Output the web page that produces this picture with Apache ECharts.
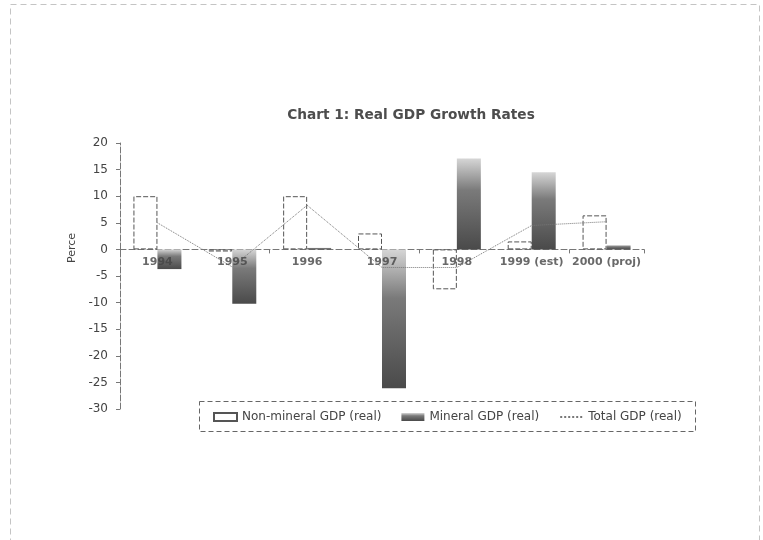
<!DOCTYPE html>
<html>
<head>
<meta charset="utf-8">
<script src="https://cdn.jsdelivr.net/npm/echarts@6/dist/echarts.min.js"></script>
<style>
html,body{margin:0;padding:0;background:#fff;}
#chart{width:763px;height:540px;}
</style>
</head>
<body>
<div id="chart"></div>
<script>
const categories = ['1994', '1995', '1996', '1997', '1998', '1999 (est)', '2000 (proj)'];
const nonMineral = [10.0, -0.4, 10.0, 3.0, -7.5, 1.5, 6.4];
const mineral = [-3.7, -10.2, 0.3, -26.1, 17.1, 14.5, 0.8];
const totalGdp = [5.0, -3.3, 8.3, -3.4, -3.4, 4.5, 5.2];
const yTicks = { min: -30, max: 20, interval: 5 };

const FONT = 'DejaVu Sans';
const chart = echarts.init(document.getElementById('chart'), null, { renderer: 'canvas' });

// category labels placed at the zero line (Excel style "next to axis")
const labelAnchors = categories.map(c => [c, 0]);

chart.setOption({
  backgroundColor: '#ffffff',
  animation: false,
  title: {
    text: 'Chart 1: Real GDP Growth Rates',
    left: 406, top: 103, textAlign: 'center',
    textStyle: { fontFamily: FONT, fontSize: 13.7, fontWeight: 'bold', color: '#4d4d4d' }
  },
  grid: { left: 120, right: 119, top: 143, bottom: 131, containLabel: false },
  legend: {
    left: 208, top: 406,
    itemGap: 20, itemWidth: 23, itemHeight: 8,
    textStyle: { fontFamily: FONT, fontSize: 12, color: '#444' },
    data: [
      { name: 'Non-mineral GDP (real)', icon: 'rect' },
      { name: 'Mineral GDP (real)', icon: 'rect' },
      { name: 'Total GDP (real)', itemStyle: { opacity: 0 } }
    ]
  },
  xAxis: {
    type: 'category',
    data: categories,
    axisLine: { onZero: true, lineStyle: { color: '#777', type: [6, 3], width: 1 } },
    axisTick: { show: true, length: 4, lineStyle: { color: '#777' } },
    axisLabel: { show: false },
    splitLine: { show: false }
  },
  yAxis: {
    type: 'value',
    min: yTicks.min, max: yTicks.max, interval: yTicks.interval,
    axisLine: { show: true, lineStyle: { color: '#777', type: [6, 2], width: 1 } },
    axisTick: { show: true, length: 4, lineStyle: { color: '#777' } },
    axisLabel: { fontFamily: FONT, fontSize: 12, color: '#444', margin: 12 },
    splitLine: { show: false }
  },
  series: [
    {
      name: 'Non-mineral GDP (real)',
      type: 'bar',
      data: nonMineral,
      barWidth: 24,
      barGap: '0%',
      itemStyle: { color: '#ffffff', borderColor: '#555', borderWidth: 1, borderType: [5, 2] }
    },
    {
      name: 'Mineral GDP (real)',
      type: 'bar',
      data: mineral,
      barWidth: 24,
      barGap: '0%',
      itemStyle: {
        color: new echarts.graphic.LinearGradient(0, 0, 0, 1, [
          { offset: 0, color: '#d6d6d6' },
          { offset: 0.35, color: '#7a7a7a' },
          { offset: 1, color: '#4a4a4a' }
        ])
      }
    },
    {
      name: 'Total GDP (real)',
      type: 'line',
      data: totalGdp,
      symbol: 'none',
      z: 5,
      lineStyle: { color: '#777', width: 1, type: 'dotted' },
      itemStyle: { color: '#777' }
    },
    {
      name: 'axisLabels',
      type: 'scatter',
      data: labelAnchors,
      symbolSize: 0,
      silent: true,
      z: 10,
      label: {
        show: true, position: 'bottom', distance: 7,
        formatter: p => p.name || p.data[0],
        fontFamily: FONT, fontSize: 11, fontWeight: 'bold', color: '#444'
      }
    }
  ],
  graphic: [
    {
      type: 'rect', left: 8, top: 2, silent: true,
      shape: { width: 749, height: 536 },
      style: { fill: 'none', stroke: '#c4c4c4', lineWidth: 1, lineDash: [6, 4] }
    },
    {
      type: 'rect', left: 197, top: 399, silent: true,
      shape: { width: 496, height: 30 },
      style: { fill: 'none', stroke: '#666', lineWidth: 1, lineDash: [5, 3] }
    },
    {
      type: 'text', left: 67, top: 233, rotation: Math.PI / 2, silent: true,
      style: { text: 'Perce', fontFamily: FONT, fontSize: 11, fill: '#444' }
    }
  ]
});
</script>
</body>
</html>
